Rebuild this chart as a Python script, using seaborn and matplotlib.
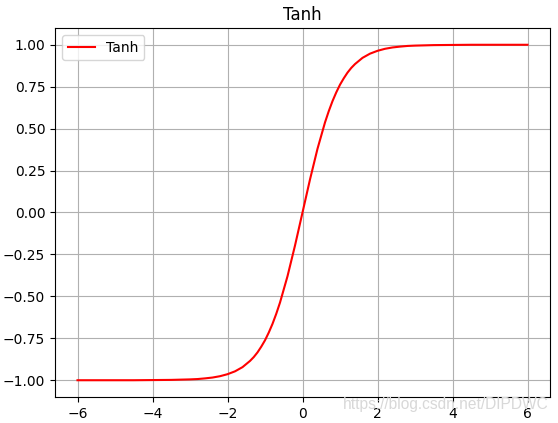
import numpy as np
import pandas as pd
import matplotlib
matplotlib.use("Agg")
import matplotlib.pyplot as plt
import seaborn as sns

# points
x_pos = [0.0, 0.2, 0.4, 0.6, 0.7, 0.8, 0.9, 1.0, 1.1, 1.2, 1.3, 1.4, 1.6, 1.8,
         2.0, 2.2, 2.4, 2.6, 2.8, 3.0, 3.5, 4.0, 4.5, 5.0, 5.5, 6.0]
y_pos = [0.0, 0.197, 0.380, 0.537, 0.604, 0.664, 0.716, 0.762, 0.800, 0.834,
         0.862, 0.885, 0.922, 0.947, 0.964, 0.976, 0.984, 0.989, 0.993, 0.995,
         0.998, 0.999, 1.0, 1.0, 1.0, 1.0]
x_neg = [-6.0, -5.5, -5.0, -4.5, -4.0, -3.5, -3.0, -2.8, -2.6, -2.4, -2.2, -2.0,
         -1.8, -1.6, -1.4, -1.3, -1.2, -1.1, -1.0, -0.9, -0.8, -0.7, -0.6,
         -0.4, -0.2]
y_neg = [-1.0, -1.0, -1.0, -1.0, -0.999, -0.998, -0.995, -0.993, -0.989, -0.984,
         -0.976, -0.964, -0.947, -0.922, -0.885, -0.862, -0.834, -0.800, -0.762,
         -0.716, -0.664, -0.604, -0.537, -0.380, -0.197]

df = pd.DataFrame({"x": x_neg + x_pos, "y": y_neg + y_pos})

fig = plt.figure(figsize=(5.58, 4.23), dpi=100)
ax = fig.add_axes([55 / 558, 1 - 397 / 423, 495 / 558, 369 / 423])
sns.lineplot(data=df, x="x", y="y", color="red", label="Tanh", ax=ax)
ax.grid(True)
ax.set_xlabel("")
ax.set_ylabel("")
ax.set_title("Tanh")
ax.set_ylim(-1.1, 1.1)
ax.legend(loc="upper left")
fig.text(0.798, 0.043, "https://blog.csdn.net/DIPDWC", color="#d8d8d8",
         fontsize=11.2, family="Liberation Sans", ha="center", va="center")
fig.savefig("out.png", dpi=100)
